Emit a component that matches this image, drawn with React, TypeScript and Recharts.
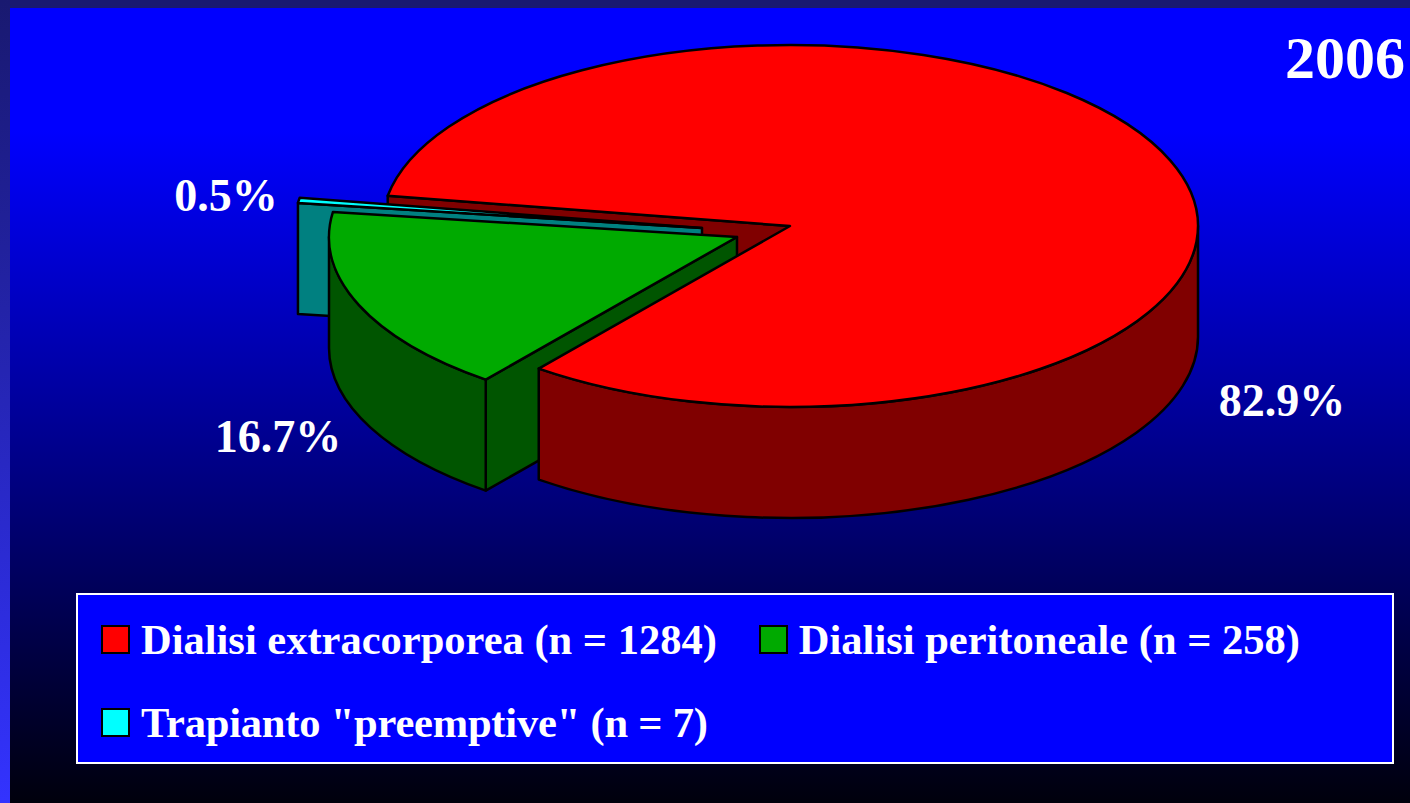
import React from "react";
import { PieChart, Pie, Legend } from "recharts";

const sliceNames = ["Dialisi extracorporea", "Dialisi peritoneale", 'Trapianto "preemptive"'];
const sliceCounts = [1284, 258, 7];
const topColors = ["#ff0000", "#00aa00", "#00ffff"];
const wallColors = ["#800000", "#005500", "#008080"];
const titleText = "2006";

const chartTable = sliceNames.map((name, i) => ({ name, value: sliceCounts[i], fill: topColors[i] }));

const CX = 790;
const CY = 226;
const RX = 408;
const SQUASH = 0.4436;
const DEPTH = 111;
const sliceShift = [{ x: 0, y: 0 }, { x: -53, y: 11 }, { x: -88, y: 2 }];
const labelCenter = [{ x: 492, y: 174 }, { x: -512, y: 210 }, { x: -564, y: -31 }];
const legendTracking = [0, 0, -0.2];
const SERIF = '"Liberation Serif", "Times New Roman", serif';

type Part = "radial" | "outer" | "top";
const layers: { slice: number; parts: Part[] }[] = [
  { slice: 0, parts: ["radial"] },
  { slice: 2, parts: ["radial", "top"] },
  { slice: 1, parts: ["radial", "outer", "top"] },
  { slice: 0, parts: ["outer", "top"] },
];

function point(ox: number, oy: number, r: number, deg: number) {
  const a = (deg * Math.PI) / 180;
  return { x: ox + r * Math.cos(a), y: oy - r * SQUASH * Math.sin(a) };
}

function makeShape(slice: number, parts: Part[]) {
  return function SliceShape(props: any) {
    const idx = sliceNames.indexOf(props.name);
    if (idx !== slice) return <g />;
    const { cx, cy, outerRadius: r, startAngle, endAngle } = props;
    const ox = cx + sliceShift[idx].x;
    const oy = cy + sliceShift[idx].y;
    const ry = r * SQUASH;
    const common = { stroke: "#000", strokeWidth: 2.5, strokeLinejoin: "round" as const };
    const out: React.ReactNode[] = [];
    if (parts.includes("radial")) {
      const p = point(ox, oy, r, startAngle);
      out.push(
        <path key="radial" {...common} fill={wallColors[idx]}
          d={`M${ox},${oy} L${p.x},${p.y} L${p.x},${p.y + DEPTH} L${ox},${oy + DEPTH} Z`} />
      );
    }
    if (parts.includes("outer")) {
      const lo = Math.max(Math.min(startAngle, endAngle), -180);
      const hi = Math.min(Math.max(startAngle, endAngle), 0);
      if (lo < hi) {
        const a = point(ox, oy, r, lo);
        const b = point(ox, oy, r, hi);
        out.push(
          <path key="outer" {...common} fill={wallColors[idx]}
            d={`M${a.x},${a.y} A${r},${ry} 0 0 0 ${b.x},${b.y} L${b.x},${b.y + DEPTH} A${r},${ry} 0 0 1 ${a.x},${a.y + DEPTH} Z`} />
        );
      }
    }
    if (parts.includes("top")) {
      const s = point(ox, oy, r, startAngle);
      const e = point(ox, oy, r, endAngle);
      const large = Math.abs(startAngle - endAngle) > 180 ? 1 : 0;
      out.push(
        <path key="top" {...common} fill={topColors[idx]}
          d={`M${ox},${oy} L${s.x},${s.y} A${r},${ry} 0 ${large} 1 ${e.x},${e.y} Z`} />
      );
    }
    return <g>{out}</g>;
  };
}

function renderPercent(props: any) {
  const idx = sliceNames.indexOf(props.name);
  return (
    <text
      x={props.cx + labelCenter[idx].x}
      y={props.cy + labelCenter[idx].y}
      textAnchor="middle"
      dominantBaseline="central"
      fill="#fff"
      fontFamily={SERIF}
      fontWeight="bold"
      fontSize={46}
    >
      {`${(props.percent * 100).toFixed(1)}%`}
    </text>
  );
}

function LegendBox({ payload }: any) {
  const seen = new Set<string>();
  const items = (payload || []).filter((p: any) => {
    if (seen.has(p.value)) return false;
    seen.add(p.value);
    return true;
  });
  return (
    <div
      style={{
        boxSizing: "border-box",
        width: 1318,
        height: 171,
        background: "#0000ff",
        border: "2px solid #fff",
        display: "flex",
        flexWrap: "wrap",
        alignContent: "flex-start",
        paddingLeft: 23,
        paddingTop: 3,
        fontFamily: SERIF,
        fontWeight: "bold",
        fontSize: 42.5,
        color: "#fff",
      }}
    >
      {items.map((it: any) => {
        const idx = sliceNames.indexOf(it.value);
        return (
          <div key={it.value} style={{ display: "flex", alignItems: "center", height: 83, marginRight: 42 }}>
            <span style={{ boxSizing: "border-box", width: 29, height: 29, background: it.color, border: "2.5px solid #000", marginRight: 11, display: "inline-block" }} />
            <span style={{ whiteSpace: "nowrap", letterSpacing: legendTracking[idx] }}>{`${it.value} (n = ${sliceCounts[idx]})`}</span>
          </div>
        );
      })}
    </div>
  );
}

export default function App() {
  return (
    <div style={{ position: "absolute", left: 0, top: 0, width: 1410, height: 803, overflow: "hidden", background: "linear-gradient(to bottom, #0000ff 0px, #0000ff 130px, #00000c 803px)" }}>
      <div style={{ position: "absolute", left: 0, top: 0, width: 1410, height: 8, background: "#191970" }} />
      <div style={{ position: "absolute", left: 0, top: 0, width: 10, height: 803, background: "linear-gradient(to bottom, #191970, #3333ff)" }} />
      <div style={{ position: "absolute", left: 1285, top: 23, fontFamily: SERIF, fontWeight: "bold", fontSize: 60, lineHeight: "70px", color: "#fff" }}>{titleText}</div>
      <PieChart width={1410} height={803} margin={{ top: 0, left: 0, right: 0, bottom: 0 }} style={{ position: "absolute", left: 0, top: 0 }}>
        {layers.map((layer, i) => (
          <Pie
            key={i}
            data={chartTable}
            dataKey="value"
            nameKey="name"
            cx={CX}
            cy={CY}
            innerRadius={0}
            outerRadius={RX}
            startAngle={170.4}
            endAngle={-189.6}
            isAnimationActive={false}
            stroke="none"
            rootTabIndex={-1}
            shape={makeShape(layer.slice, layer.parts)}
            label={i === layers.length - 1 ? renderPercent : false}
            labelLine={false}
          />
        ))}
        <Legend content={<LegendBox />} wrapperStyle={{ position: "absolute", left: 76, top: 593, width: 1318, height: 171, bottom: "auto" }} />
      </PieChart>
    </div>
  );
}
